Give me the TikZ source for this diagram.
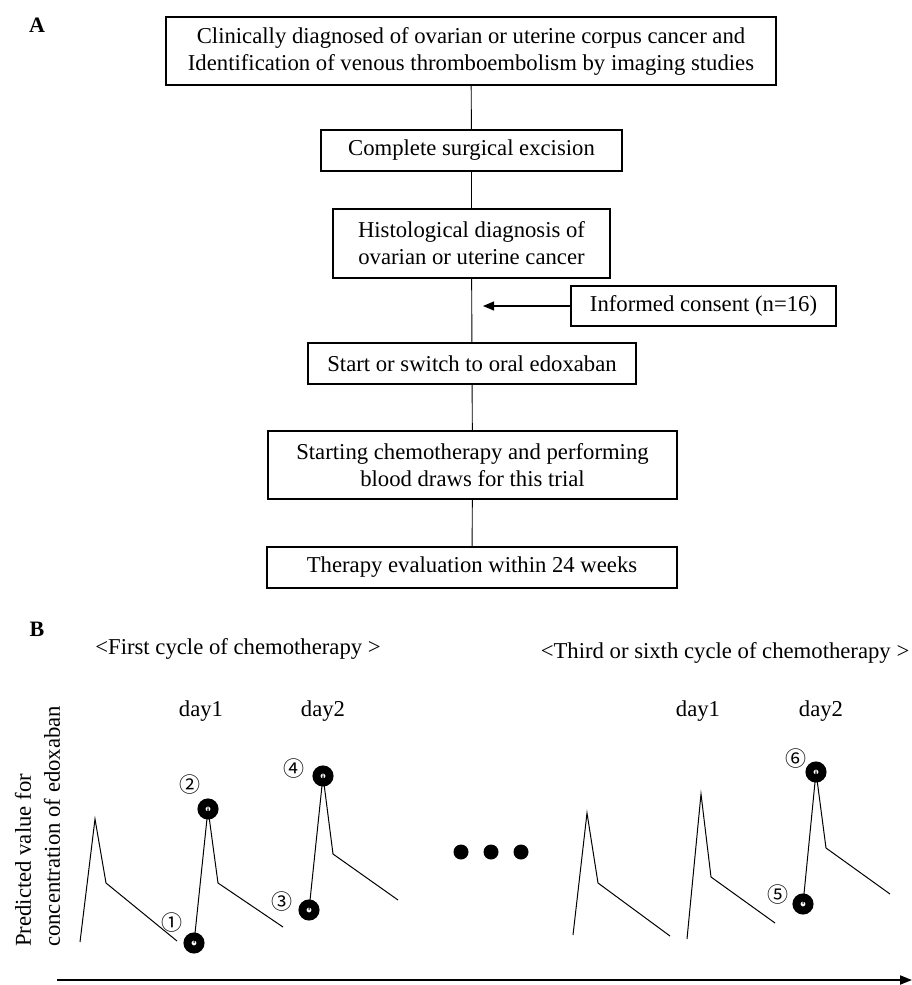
\documentclass[tikz,border=0pt]{standalone}
\usepackage{fontspec}
\setmainfont{Liberation Serif}
\newfontfamily\cjk{Noto Sans CJK JP}
\usetikzlibrary{arrows.meta}
\begin{document}
\begin{tikzpicture}[x=1pt,y=-1pt,
  every node/.style={font=\fontsize{22.7}{27}\selectfont, inner sep=0pt},
  box/.style={draw, line width=1.2pt, align=center},
  conn/.style={line width=0.9pt},
  curve/.style={line width=1pt, line join=miter},
  marker/.style={circle, draw, line width=8pt, minimum size=13pt, fill=white},
  cnum/.style={font=\cjk\fontsize{21}{21}\selectfont},
  dotmark/.style={circle, fill, minimum size=15pt},
  panel/.style={font=\fontsize{22}{22}\selectfont\bfseries},
]
\useasboundingbox (0,0) rectangle (912,985);

% ---------- Panel A ----------
\node[panel] (lA) at (37,25) {A};
\node[box, minimum width=610pt, minimum height=68pt] (b1) at (471,51)
  {Clinically diagnosed of ovarian or uterine corpus cancer and\\Identification of venous thromboembolism by imaging studies};
\node[box, minimum width=301pt, minimum height=41pt] (b2) at (471.5,150.5) {Complete surgical excision};
\node[box, minimum width=277pt, minimum height=69pt] (b3) at (471.5,243.5) {Histological diagnosis of\\ovarian or uterine cancer};
\node[box, minimum width=328pt, minimum height=41pt] (b4) at (472,363.5) {Start or switch to oral edoxaban};
\node[box, minimum width=409pt, minimum height=68pt] (b5) at (472.5,465) {Starting chemotherapy and performing\\blood draws for this trial};
\node[box, minimum width=410pt, minimum height=41pt] (b6) at (472,567.5) {Therapy evaluation within 24 weeks};
\node[box, minimum width=265pt, minimum height=40pt] (ic) at (703.5,306) {Informed consent (n=16)};

\draw[conn] (b1) -- (b2);
\draw[conn] (b2) -- (b3);
\draw[conn] (b3) -- (b4);
\draw[conn] (b4) -- (b5);
\draw[conn] (b5) -- (b6);
\coordinate (ictip) at (483,306);
\draw[line width=1.2pt, -{Triangle[length=11pt,width=9pt]}] (ic.west) -- (ictip);

% ---------- Panel B ----------
\node[panel] (lB) at (37,629) {B};
\node (h1) at (238,649) {<First cycle of chemotherapy >};
\node (h2) at (725,653) {<Third or sixth cycle of chemotherapy >};
\node (d11) at (201,711) {day1};
\node (d12) at (323,711) {day2};
\node (d21) at (698,711) {day1};
\node (d22) at (821,711) {day2};

\node[rotate=90, align=left, anchor=west, font=\fontsize{22.7}{29}\selectfont] (ylab) at (37.5,947)
  {Predicted value for\\concentration of edoxaban};

% markers
\node[marker] (m1) at (194,943) {};
\node[marker] (m2) at (208,809) {};
\node[marker] (m3) at (309,910) {};
\node[marker] (m4) at (323,776) {};
\node[marker] (m5) at (803,904) {};
\node[marker] (m6) at (816,772) {};

% circled numbers
\node[cnum] (n1) at (172,923) {①};
\node[cnum] (n2) at (190,785) {②};
\node[cnum] (n3) at (282,902) {③};
\node[cnum] (n4) at (294,769) {④};
\node[cnum] (n5) at (778,895) {⑤};
\node[cnum] (n6) at (796,759) {⑥};

% concentration curves
\coordinate (a0) at (80,942);  \coordinate (a1) at (95,819);
\coordinate (a2) at (106,883); \coordinate (a3) at (177,941);
\draw[curve] (a0) -- (a1) -- (a2) -- (a3);

\coordinate (k1) at (218,883); \coordinate (e1) at (283,927);
\draw[curve] (m1.center) -- (m2.center) -- (k1) -- (e1);

\coordinate (k2) at (333,854); \coordinate (e2) at (398,900);
\draw[curve] (m3.center) -- (m4.center) -- (k2) -- (e2);

\coordinate (c0) at (573,935); \coordinate (c1) at (587,813);
\coordinate (c2) at (598,883); \coordinate (c3) at (670,936);
\draw[curve] (c0) -- (c1) -- (c2) -- (c3);

\coordinate (f0) at (687,939); \coordinate (f1) at (701,794);
\coordinate (f2) at (711,877); \coordinate (f3) at (775,923);
\draw[curve] (f0) -- (f1) -- (f2) -- (f3);

\coordinate (k3) at (826,848); \coordinate (e3) at (890,894);
\draw[curve] (m5.center) -- (m6.center) -- (k3) -- (e3);

% ellipsis dots
\node[dotmark] (p1) at (461,852) {};
\node[dotmark] (p2) at (491,852) {};
\node[dotmark] (p3) at (521,852) {};

% time axis
\coordinate (ax0) at (57,980);
\coordinate (ax1) at (912,980);
\draw[line width=2pt, -{Triangle[length=12pt,width=9pt]}] (ax0) -- (ax1);
\end{tikzpicture}
\end{document}
